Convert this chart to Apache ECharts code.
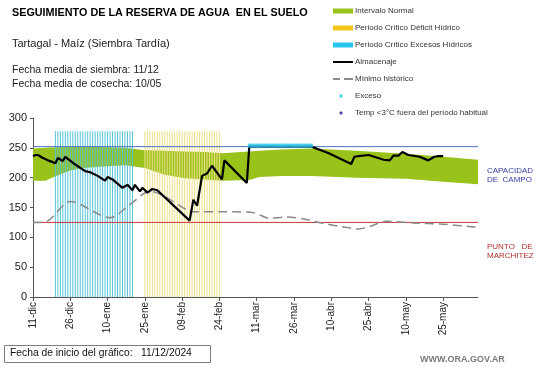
<!DOCTYPE html>
<html><head><meta charset="utf-8">
<script src="https://cdn.jsdelivr.net/npm/echarts@6/dist/echarts.min.js"></script>
<style>html,body{margin:0;padding:0;background:#fff}#c{width:541px;height:368px}</style>
</head><body><div id="c"></div>
<script>
// x positions are days since 11-dic-2024
var tickDays = [0,15,30,45,60,75,90,105,120,135,150,165];
var tickLabels = ['11-dic','26-dic','10-ene','25-ene','09-feb','24-feb','11-mar','26-mar','10-abr','25-abr','10-may','25-may'];

var almDays = [0,1,2,4,6,8,9,10,12,13,17,21,23,26,29,30,32,36,38,40,41,43,44,46,48,50,63,64.5,66,68,70,72,76,77,86,87,112,119,128,129.3,131,135,139.5,141,143.5,145,147,148.6,151,155.5,159,161.4,163,165];
var almValues = [236,238,238,233,229,226,224,233,228,235,222,211,209,203,195,201,197,183,188,179,188,177,183,175,181,179,128,163,153,203,207,220,197,229,191,252,252,241,223,235,236,238,232,230,229,237,237,243,238,235,229,235,236,236];

var minDays = [0,5,15,31,39,47,62,64,77,89,95,102,110,116,124,131,136,142,153,165,178];
var minValues = [125,126,160,133,155,177,146,143,143,141,132,134,130,124,118,114,119,127,124,122,117];

var bandDays = [0,5,10,15,20,30,37,45,53,61,69,76,87,91,100,112,130,150,165,179];
var bandLow  = [195,195,204,212,216,219,221,216,205,199,197,195,196,201,203,203,200,198,193,189];
var bandHigh = [249,250,251,252,252,251,250,246,245,244,243,241,244,245,247,249,245,240,235,230];

var excesoDays = [87,88,89,90,91,92,93,94,95,96,97,98,99,100,101,102,103,104,105,106,107,108,109,110,111,112];
var excesoValue = 252;

var excessPeriodDays = [9,10,11,12,13,14,15,16,17,18,19,20,21,22,23,24,25,26,27,28,29,30,31,32,33,34,35,36,37,38,39,40];
var deficitPeriodDays = [45,46,47,48,49,50,51,52,53,54,55,56,57,58,59,60,61,62,63,64,65,66,67,68,69,70,71,72,73,74,75];
var periodTop = 278;

var capacidadCampo = 252;
var puntoMarchitez = 125;
var xMax = 179;

function pairs(xs, ys){ return xs.map(function(x,i){ return [x, ys[i]]; }); }
function flat(xs, v){ return xs.map(function(x){ return [x, v]; }); }

var chart = echarts.init(document.getElementById('c'), null, {renderer:'canvas'});
var F = 'Liberation Sans, Arial, sans-serif';

function renderBand(params, api){
  if (params.dataIndex !== 0) return null;
  var pts = [];
  for (var i=0;i<bandDays.length;i++) pts.push(api.coord([bandDays[i], bandHigh[i]]));
  for (var j=bandDays.length-1;j>=0;j--) pts.push(api.coord([bandDays[j], bandLow[j]]));
  return {type:'polygon', shape:{points:pts}, style:{fill:'#99c21a'}};
}

var option = {
  animation:false,
  textStyle:{fontFamily:F},
  grid:{left:33, right:63, top:118, bottom:71, containLabel:false, outerBoundsMode:'none'},
  legend:{
    orient:'vertical', left:333, top:7, padding:0, itemWidth:20, itemHeight:5, itemGap:9,
    symbolKeepAspect:true,
    textStyle:{fontSize:8, color:'#333', fontFamily:F, padding:[0,0,0,-3]},
    data:[
      {name:'Intervalo Normal', icon:'rect', itemStyle:{color:'#99c21a'}},
      {name:'Periodo Crítico Déficit Hídrico', icon:'rect', itemStyle:{color:'#f5c518'}},
      {name:'Periodo Crítico Excesos Hídricos', icon:'rect', itemStyle:{color:'#29c5f0'}},
      {name:'Almacenaje', icon:'path://M0,0H40V4H0Z', itemStyle:{color:'#000'}},
      {name:'Mínimo histórico', icon:'path://M0,0H14V4H0Z M22,0H40V4H22Z', itemStyle:{color:'#8a8a8a'}},
      {name:'Exceso', icon:'path://M6.5,0.5H9.5V3.5H6.5Z M0,0L0,0Z M20,4L20,4Z', itemStyle:{color:'#29c5f0'}},
      {name:'Temp <3°C fuera del período habitual', icon:'path://M8,0L10,2L8,4L6,2Z M0,0L0,0Z M20,4L20,4Z', itemStyle:{color:'#1a1a9a'}}
    ]
  },
  xAxis:{
    type:'value', min:0, max:xMax,
    axisLine:{lineStyle:{color:'#555'}},
    axisTick:{show:true, length:4, customValues:tickDays, lineStyle:{color:'#555'}},
    splitLine:{show:false},
    axisLabel:{customValues:tickDays, rotate:90, fontSize:10, color:'#222', margin:5,
      formatter:function(v){ var i = tickDays.indexOf(v); return i>=0 ? tickLabels[i] : ''; }}
  },
  yAxis:{
    type:'value', min:0, max:300, interval:50,
    name:'Milímetros', nameLocation:'middle', nameGap:25, nameTextStyle:{fontSize:7, color:'#222'},
    axisLine:{show:true, lineStyle:{color:'#555'}},
    axisTick:{show:true, length:3, lineStyle:{color:'#555'}},
    splitLine:{show:false},
    axisLabel:{fontSize:11, color:'#222', margin:6}
  },
  series:[
    {name:'Intervalo Normal', type:'custom', renderItem:renderBand,
      data:bandDays.map(function(d,i){ return [d, bandLow[i], bandHigh[i]]; }),
      encode:{x:0, y:[1,2]}, itemStyle:{color:'#99c21a'}, silent:true, z:1},
    {name:'Periodo Crítico Excesos Hídricos', type:'bar', data:flat(excessPeriodDays, periodTop),
      barWidth:1, itemStyle:{color:'#55c3d8'}, z:2},
    {name:'Periodo Crítico Déficit Hídrico', type:'bar', data:flat(deficitPeriodDays, periodTop),
      barWidth:1, barGap:'-100%', itemStyle:{color:'#eee08a'}, z:2},
    {name:'CC', type:'line', data:[[0,capacidadCampo],[xMax,capacidadCampo]], symbol:'none',
      lineStyle:{color:'#4f6fc0', width:1}, silent:true, z:3},
    {name:'PMP', type:'line', data:[[0,puntoMarchitez],[xMax,puntoMarchitez]], symbol:'none',
      lineStyle:{color:'#c83a3a', width:1}, silent:true, z:3},
    {name:'Mínimo histórico', type:'line', data:pairs(minDays, minValues), symbol:'none', smooth:0.3,
      lineStyle:{color:'#8a8a8a', width:1.5, type:[9,5]}, itemStyle:{color:'#8a8a8a'}, z:4},
    {name:'Almacenaje', type:'line', data:pairs(almDays, almValues), symbol:'none',
      lineStyle:{color:'#000', width:2.2}, itemStyle:{color:'#000'}, z:5},
    {name:'Exceso', type:'scatter', data:flat(excesoDays, excesoValue), symbol:'rect', symbolSize:[3,4],
      symbolOffset:[0,-1], itemStyle:{color:'#29c5f0'}, z:6},
    {name:'Temp <3°C fuera del período habitual', type:'scatter', data:[], symbol:'diamond',
      itemStyle:{color:'#1a1a9a'}, z:6}
  ],
  graphic:[
    {type:'text', left:12, top:8, style:{text:'SEGUIMIENTO DE LA RESERVA DE AGUA  EN EL SUELO', font:'bold 10.8px '+F, fill:'#000'}},
    {type:'text', left:12, top:38, style:{text:'Tartagal - Maíz (Siembra Tardía)', font:'11px '+F, fill:'#222'}},
    {type:'text', left:12, top:65, style:{text:'Fecha media de siembra: 11/12', font:'10.5px '+F, fill:'#222'}},
    {type:'text', left:12, top:79, style:{text:'Fecha media de cosecha: 10/05', font:'10.5px '+F, fill:'#222'}},
    {type:'text', left:487, top:166, style:{text:'CAPACIDAD\nDE  CAMPO', font:'8px '+F, fill:'#3a3aa8', lineHeight:9}},
    {type:'text', left:487, top:242, style:{text:'PUNTO   DE\nMARCHITEZ', font:'8px '+F, fill:'#b03030', lineHeight:9}},
    {type:'rect', shape:{x:4.5, y:345.5, width:206, height:17}, style:{fill:'#fff', stroke:'#8a7a7a', lineWidth:1}},
    {type:'text', left:10, top:348, style:{text:'Fecha de inicio del gráfico:   11/12/2024', font:'10.3px '+F, fill:'#111'}},
    {type:'text', left:420, top:355, style:{text:'WWW.ORA.GOV.AR', font:'bold 9px '+F, fill:'#7a7a7a'}}
  ]
};
chart.setOption(option);
</script></body></html>
